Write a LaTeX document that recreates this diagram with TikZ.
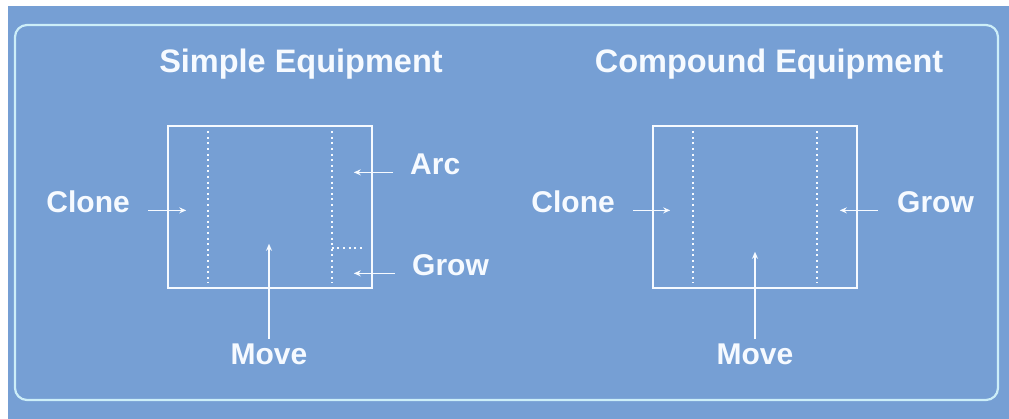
\documentclass[tikz,border=0pt]{standalone}
\usepackage{fontspec}
\setmainfont{Liberation Sans}
\usetikzlibrary{positioning, arrows.meta}
\definecolor{panelblue}{RGB}{118,159,212}
\definecolor{framecyan}{RGB}{205,238,248}
\definecolor{inkwhite}{RGB}{246,250,255}

\begin{document}
\begin{tikzpicture}[x=1pt, y=-1pt,
				title/.style={text=inkwhite, font=\fontsize{32.5}{36}\selectfont\bfseries, inner sep=0pt, anchor=base},
				tag/.style={text=inkwhite, font=\fontsize{30}{34}\selectfont\bfseries, inner sep=0pt},
				equip/.style={draw=inkwhite, line width=1.6pt, minimum width=204pt, minimum height=162pt, inner sep=0pt},
				guide/.style={draw=inkwhite, line width=2pt, dash pattern=on 2pt off 3.6pt},
				arr/.style={draw=inkwhite, line width=1.3pt, -{Stealth[length=7pt,width=6pt]}},
				]
				
				%% ── Background and frame ───────────────────────────────────────────────
				\useasboundingbox (0,0) rectangle (1009,419);
				\fill[white] (0,0) rectangle (1009,419);
				\fill[panelblue] (8,6) rectangle (1009,419);
				\draw[framecyan, line width=2.2pt, rounded corners=12pt] (15,25) rectangle (998,400);
				
				%% ── Boxes and titles ───────────────────────────────────────────────────
				\node[equip] (sbox) at (270,207) {};
				\node[equip] (cbox) at (755,207) {};
				\node[title] (stitle) at (301,73) {Simple Equipment};
				\node[title] (ctitle) at (769,73) {Compound Equipment};
				
				\foreach \b in {sbox,cbox} {
					\draw[guide] ([xshift=41pt,yshift=-6pt]\b.north west) -- ([xshift=41pt,yshift=6pt]\b.south west);
					\draw[guide] ([xshift=-41pt,yshift=-6pt]\b.north east) -- ([xshift=-41pt,yshift=6pt]\b.south east);
				}
				\draw[guide] ([xshift=-41pt,yshift=41pt]sbox.south east) -- ([xshift=-9pt,yshift=41pt]sbox.south east);
				
				%% ── Simple equipment labels ────────────────────────────────────────────
				\node[tag, anchor=base east] (sClone) at (130,213) {Clone};
				\node[tag, anchor=base west] (sArc)   at (410,175) {Arc};
				\node[tag, anchor=base west] (sGrow)  at (412,276) {Grow};
				\node[tag, anchor=base]      (sMove)  at (269,365) {Move};
				
				\draw[arr] ([xshift=18pt]sClone.mid east) -- ([xshift=19pt]sClone.mid east -| sbox.west);
				\draw[arr] ([xshift=-17pt]sArc.mid west) -- ([xshift=-19pt]sArc.mid west -| sbox.east);
				\draw[arr] ([xshift=-17pt]sGrow.mid west) -- ([xshift=-19pt]sGrow.mid west -| sbox.east);
				\draw[arr] ([yshift=5pt]sMove.north) -- ([yshift=45pt]sMove.north |- sbox.south);
				
				%% ── Compound equipment labels ──────────────────────────────────────────
				\node[tag, anchor=base east] (cClone) at (615,213) {Clone};
				\node[tag, anchor=base west] (cGrow)  at (897,213) {Grow};
				\node[tag, anchor=base]      (cMove)  at (755,365) {Move};
				
				\draw[arr] ([xshift=18pt]cClone.mid east) -- ([xshift=18pt]cClone.mid east -| cbox.west);
				\draw[arr] ([xshift=-19pt]cGrow.mid west) -- ([xshift=-18pt]cGrow.mid west -| cbox.east);
				\draw[arr] ([yshift=5pt]cMove.north) -- ([yshift=37pt]cMove.north |- cbox.south);
				
			\end{tikzpicture}
\end{document}
